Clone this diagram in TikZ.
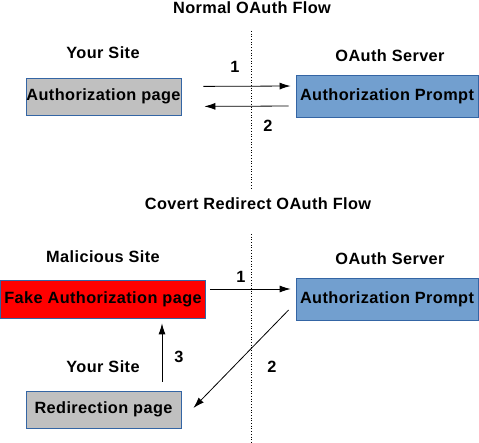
\documentclass[tikz,border=0pt]{standalone}
\usepackage{fontspec}
\setmainfont[LetterSpace=2.5]{Liberation Sans}
\usetikzlibrary{arrows.meta, positioning}
\usepackage{xcolor}
\definecolor{boxline}{HTML}{3465A4}
\definecolor{greybox}{HTML}{C0C0C0}
\definecolor{bluebox}{HTML}{729FCF}
\definecolor{redbox}{HTML}{FF0000}

\begin{document}
\begin{tikzpicture}[x=1pt, y=-1pt, >={Latex[length=11pt,width=7pt]}, font=\fontsize{16.3}{19}\selectfont\bfseries]
				\tikzstyle{page} = [draw=boxline, line width=0.8pt, inner sep=0pt, minimum height=37pt]
				\tikzstyle{note} = [draw=none, inner sep=0pt]
				\tikzstyle{flow} = [->, line width=0.8pt]
				\tikzstyle{split} = [dotted, line width=0.7pt]
				
				\useasboundingbox (0,0) rectangle (479,443);
				
				% normal flow
				\node[note]							at (252, 8)		(t1)	{Normal OAuth Flow};
				\node[note]							at (103, 53)	(ys1)	{Your Site};
				\node[note]							at (390, 56)	(os1)	{OAuth Server};
				\node[page, fill=greybox, minimum width=155pt]		at (103.5, 96.5)	(auth)	{Authorization page};
				\node[page, fill=bluebox, minimum width=182pt, minimum height=42pt]	at (387, 96)	(prompt)	{Authorization Prompt};
				\node[note]							at (235, 67)	(n1)	{1};
				\node[note]							at (268, 126)	(n2)	{2};
				\coordinate (s1) at (251, 31);
				\coordinate (s2) at (251, 190);
				
				% covert redirect flow
				\node[note]							at (258, 204)	(t2)	{Covert Redirect OAuth Flow};
				\node[note]							at (103, 257)	(ms)	{Malicious Site};
				\node[note]							at (390, 259)	(os2)	{OAuth Server};
				\node[page, fill=redbox, minimum width=205pt, minimum height=38pt]	at (103, 299)	(fake)	{Fake Authorization page};
				\node[page, fill=bluebox, minimum width=182pt, minimum height=42pt]	at (387, 299)	(prompt2)	{Authorization Prompt};
				\node[note]							at (103, 367)	(ys2)	{Your Site};
				\node[page, fill=greybox, minimum width=155pt]		at (103.5, 409.5)	(redir)	{Redirection page};
				\node[note]							at (241, 277)	(m1)	{1};
				\node[note]							at (272, 367)	(m2)	{2};
				\node[note]							at (179, 357)	(m3)	{3};
				\coordinate (s3) at (251, 234);
				\coordinate (s4) at (251, 443);
				
				\draw[split] (s1) -- (s2);
				\draw[split] (s3) -- (s4);
				
				\draw[flow, shorten <=22pt, shorten >=5pt] ([yshift=10pt]auth.east) -- ([yshift=10pt]prompt.west);
				\draw[flow, shorten <=7pt, shorten >=23pt] ([yshift=-10pt]prompt.west) -- ([yshift=-10pt]auth.east);
				\draw[flow, shorten <=4pt, shorten >=5pt] ([yshift=10pt]fake.east) -- ([yshift=10pt]prompt2.west);
				\draw[flow] ([shift={(-7pt,-11pt)}]prompt2.west) -- ([shift={(12pt,1.5pt)}]redir.east);
				\draw[flow, shorten <=9pt, shorten >=5pt] ([xshift=58.5pt]redir.north) -- ([xshift=59pt]fake.south);
			\end{tikzpicture}
\end{document}
